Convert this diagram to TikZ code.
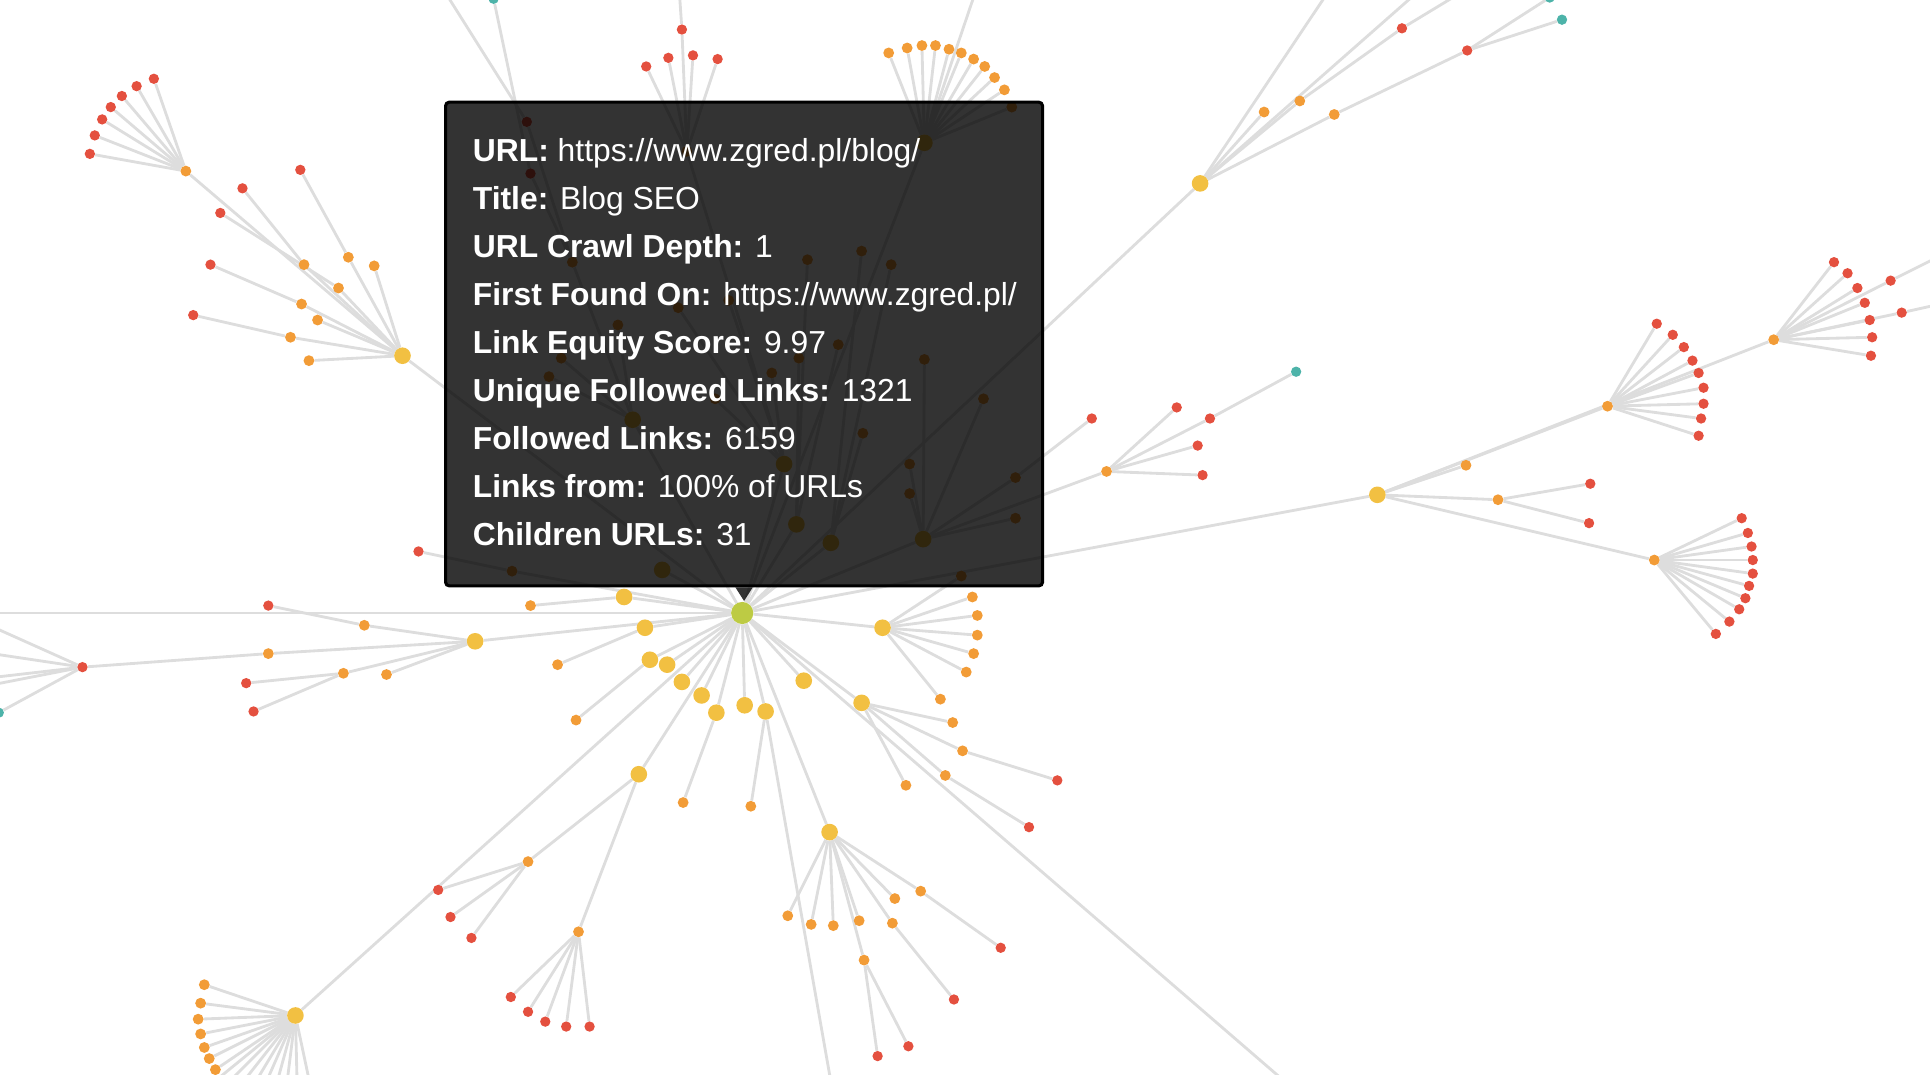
\documentclass[tikz,border=0pt]{standalone}
\usepackage{fontspec}
\setmainfont{Liberation Sans}
\usepackage{tikz}
\usetikzlibrary{positioning}
\pgfdeclarelayer{bg}
\pgfsetlayers{bg,main}
\definecolor{pg_green}{HTML}{BDCB44}
\definecolor{pg_yellow}{HTML}{F2C042}
\definecolor{pg_orange}{HTML}{F29C37}
\definecolor{pg_red}{HTML}{E4503F}
\definecolor{pg_teal}{HTML}{4DB3A9}
\definecolor{pg_edge}{HTML}{DDDDDD}
\tikzset{
  pg_dot/.style = {circle, inner sep=0pt, draw=none},
  pg_c/.style = {pg_dot, fill=pg_green, minimum size=18pt},
  pg_y/.style = {pg_dot, fill=pg_yellow, minimum size=13.5pt},
  pg_o/.style = {pg_dot, fill=pg_orange, minimum size=8.8pt},
  pg_r/.style = {pg_dot, fill=pg_red, minimum size=8.4pt},
  pg_t/.style = {pg_dot, fill=pg_teal, minimum size=8.4pt},
  pg_e/.style = {draw=pg_edge, line width=2.3pt},
  tip_box/.style = {rectangle, fill=black, fill opacity=0.8, draw=black,
    draw opacity=1, line width=2.5pt, rounded corners=3pt, inner sep=0pt,
    minimum width=485pt, minimum height=393pt},
  tip_txt/.style = {anchor=base west, inner sep=0pt, text=white,
    font=\fontsize{25.85}{31}\selectfont}
}

\begin{document}
\begin{tikzpicture}[x=1pt, y=-1pt]
\useasboundingbox (0,0) rectangle (1568,873);

% root page
\node[pg_c] (c) at (603,498) {};

% first level
\foreach \n/\x/\y in {y1/507/485, y2/524/510, y3/528/536, y4/542/540,
  y5/554/554, y6/570/565, y7/582/579, y8/605/573, y9/622/578, y10/653/553,
  y11/717/510, y12/700/571, y13/519/629, y14/674/676, y15/386/521,
  y16/240/825, y17/327/289, y18/975/149, y19/1119/402, y20/751/116,
  y21/514/341, y22/637/377, y23/647/426, y24/675/441, y25/750/438,
  y26/538/463}
  \node[pg_y] (\n) at (\x,\y) {};

% second level
\foreach \n/\x/\y in {o1/151/139, o2/247/215, o3/283/209, o4/304/216,
  o5/275/234, o6/245/247, o7/258/260, o8/236/274, o9/251/293,
  o10/1027/91, o11/1056/82, o12/1084/93,
  o13/790/485, o14/794/500, o15/794/516, o16/791/531, o17/785/546,
  o18/764/568, o19/781/468,
  o20/774/587, o21/782/610, o22/768/630, o23/736/638,
  o24/640/744, o25/659/751, o26/677/752, o27/698/748, o28/725/750,
  o29/727/730, o30/748/724, o31/702/780,
  o32/610/655, o33/555/652, o34/468/585, o35/453/540, o36/431/492,
  o37/429/700, o38/470/757,
  o39/166/800, o40/163/815, o41/161/828, o42/163/840, o43/166/851,
  o44/170/860, o45/175/869,
  o46/296/508, o47/218/531, o48/279/547, o49/314/548,
  o50/1191/378, o51/1217/406, o52/1306/330, o53/1344/455, o54/1441/276,
  o55/722/43, o56/737/39, o57/749/37, o58/760/37, o59/771/40, o60/781/43,
  o61/791/48, o62/800/54, o63/808/63, o64/816/73, o65/822/87,
  o66/899/383, o67/825/388, o68/751/292, o69/799/324, o70/739/377,
  o71/739/401, o72/825/421,
  o73/465/213, o74/502/264, o75/456/291, o76/446/306,
  o77/551/250, o78/592/244, o79/627/303, o80/581/324, o81/558/123,
  o82/656/211, o83/681/280, o84/649/291,
  o85/700/204, o86/724/215, o87/701/352, o88/416/464}
  \node[pg_o] (\n) at (\x,\y) {};

% third level
\foreach \n/\x/\y in {r1/125/64, r2/111/70, r3/99/78, r4/90/87, r5/83/97,
  r6/77/110, r7/73/125, r8/244/138, r9/197/153, r10/179/173, r11/171/215,
  r12/157/256, r13/1139/23, r14/1192/41, r15/859/634, r16/836/672,
  r17/813/770, r18/775/812, r19/738/850, r20/713/858,
  r21/356/723, r22/366/745, r23/383/762,
  r24/415/810, r25/429/822, r26/443/830, r27/460/834, r28/479/834,
  r29/218/492, r30/200/555, r31/206/578, r32/67/542,
  r33/1292/393, r34/1291/425,
  r35/1346/263, r36/1359/272, r37/1368/282, r38/1375/293, r39/1380/303,
  r40/1384/315, r41/1384/328, r42/1382/340, r43/1380/354,
  r44/1490/213, r45/1501/222, r46/1509/234, r47/1515/246, r48/1519/260,
  r49/1521/274, r50/1520/289, r51/1536/228, r52/1545/254,
  r53/1415/421, r54/1420/433, r55/1423/444, r56/1424/455, r57/1424/466,
  r58/1421/476, r59/1418/486, r60/1413/495, r61/1405/505, r62/1394/515,
  r63/956/331, r64/983/340, r65/973/362, r66/977/386, r67/887/340,
  r68/525/54, r69/543/47, r70/554/24, r71/563/45, r72/583/48,
  r73/428/99, r74/431/141, r75/340/448}
  \node[pg_r] (\n) at (\x,\y) {};

% fourth level
\foreach \n/\x/\y in {t1/1269/16, t2/1259/-2, t3/-1/579, t4/1053/302,
  t5/401/-1}
  \node[pg_t] (\n) at (\x,\y) {};

% pages outside the view
\foreach \n/\x/\y in {x1/-20/498, x2/1050/884, x3/1088/-20, x4/1167/-20,
  x5/1210/-20, x6/677/890, x7/797/-20, x8/551/-20, x9/353/-20,
  x10/1590/201, x11/1590/244, x12/-20/503, x13/-20/529, x14/-20/552,
  x15/-20/559, x16/142/905, x17/160/905, x18/177/905, x19/192/905,
  x20/205/905, x21/218/905, x22/230/905, x23/242/905, x24/257/905}
  \coordinate (\n) at (\x,\y);

\begin{pgfonlayer}{bg}
\foreach \a/\b in {c/y1, c/y2, c/y3, c/y4, c/y5, c/y6, c/y7, c/y8, c/y9,
  c/y10, c/y11, c/y12, c/y13, c/y14, c/y15, c/y16, c/y17, c/y18, c/y19,
  c/y20, c/y21, c/y22, c/y23, c/y24, c/y25, c/y26, c/x1, c/x2, c/o88,
  y1/o36, y2/o35, y3/o34, y7/o33, y9/o32, y9/x6,
  y11/o13, y11/o14, y11/o15, y11/o16, y11/o17, y11/o18, y11/o19,
  y12/o20, y12/o21, y12/o22, y12/o23, o21/r15, o22/r16,
  y13/o37, y13/o38, o37/r21, o37/r22, o37/r23,
  o38/r24, o38/r25, o38/r26, o38/r27, o38/r28,
  y14/o24, y14/o25, y14/o26, y14/o27, y14/o28, y14/o29, y14/o30, y14/o31,
  o30/r17, o28/r18, o31/r19, o31/r20,
  y15/o46, y15/o47, y15/o48, y15/o49, o46/r29, o48/r30, o48/r31,
  o47/r32, r32/t3, r32/x12, r32/x13, r32/x14, r32/x15,
  y16/o39, y16/o40, y16/o41, y16/o42, y16/o43, y16/o44, y16/o45,
  y16/x16, y16/x17, y16/x18, y16/x19, y16/x20, y16/x21, y16/x22,
  y16/x23, y16/x24,
  y17/o1, y17/o2, y17/o3, y17/o4, y17/o5, y17/o6, y17/o7, y17/o8, y17/o9,
  o1/r1, o1/r2, o1/r3, o1/r4, o1/r5, o1/r6, o1/r7,
  o3/r8, o2/r9, o5/r10, o6/r11, o8/r12,
  y18/o10, y18/o11, y18/o12, y18/x3, y18/x4, o11/r13, r13/x5,
  o12/r14, r14/t1, r14/t2,
  y19/o50, y19/o51, y19/o52, y19/o53, y19/o54, o51/r33, o51/r34,
  o52/r35, o52/r36, o52/r37, o52/r38, o52/r39, o52/r40, o52/r41,
  o52/r42, o52/r43,
  o54/r44, o54/r45, o54/r46, o54/r47, o54/r48, o54/r49, o54/r50,
  o54/r51, o54/r52, r51/x10, r52/x11,
  o53/r53, o53/r54, o53/r55, o53/r56, o53/r57, o53/r58, o53/r59,
  o53/r60, o53/r61, o53/r62,
  y20/o55, y20/o56, y20/o57, y20/o58, y20/o59, y20/o60, y20/o61,
  y20/o62, y20/o63, y20/o64, y20/o65, y20/x7,
  y21/o73, y21/o74, y21/o75, y21/o76, o73/r73, o73/r74, r73/x9, r74/t5,
  y22/o77, y22/o78, y22/o79, y22/o80, y22/o81,
  o81/r68, o81/r69, o81/r70, o81/r71, o81/r72, r70/x8,
  y23/o82, y23/o83, y23/o84, y24/o85, y24/o86, y24/o87,
  y25/o66, y25/o67, y25/o68, y25/o69, y25/o70, y25/o71, y25/o72,
  o66/r63, o66/r64, o66/r65, o66/r66, r64/t4, o67/r67, o88/r75}
  \draw[pg_e] (\a) -- (\b);
\end{pgfonlayer}

% hover card
\node[tip_box] (tip) at (604.5,279.5) {};
\fill[black, fill opacity=0.8] ([xshift=-7pt]tip.south) -- ([xshift=7pt]tip.south)
  -- ([yshift=-11pt]tip.south) -- cycle;

\node[tip_txt] (l1) at (384,131) {\textbf{URL:} https://www.zgred.pl/blog/};
\node[tip_txt] (l2) at (384,170) {\textbf{Title:} Blog SEO};
\node[tip_txt] (l3) at (384,209) {\textbf{URL Crawl Depth:} 1};
\node[tip_txt] (l4) at (384,248) {\textbf{First Found On:} https://www.zgred.pl/};
\node[tip_txt] (l5) at (384,287) {\textbf{Link Equity Score:} 9.97};
\node[tip_txt] (l6) at (384,326) {\textbf{Unique Followed Links:} 1321};
\node[tip_txt] (l7) at (384,365) {\textbf{Followed Links:} 6159};
\node[tip_txt] (l8) at (384,404) {\textbf{Links from:} 100\% of URLs};
\node[tip_txt] (l9) at (384,443) {\textbf{Children URLs:} 31};
\end{tikzpicture}
\end{document}
